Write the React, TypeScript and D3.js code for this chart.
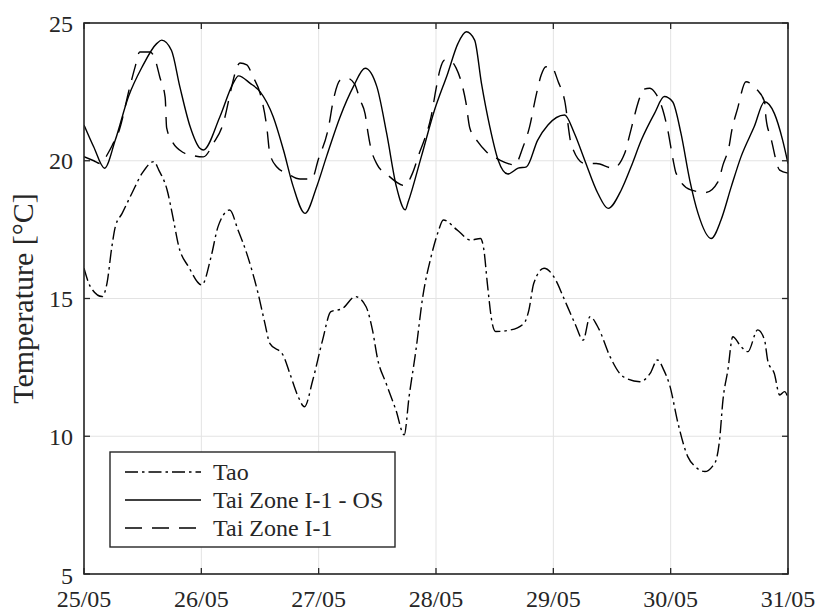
import React from "react";
import * as d3 from "d3";

// hours since 25/05 00:00
const dayLabels = ["25/05", "26/05", "27/05", "28/05", "29/05", "30/05", "31/05"];
const dayTicks = [0, 24, 48, 72, 96, 120, 144];
const yTicks = [5, 10, 15, 20, 25];

const taoHours = [0, 1.3, 3.7, 4.7, 5.7, 6.4, 7.8, 9.8, 11.9, 14.3, 15.3, 17, 18.3, 19.4, 21.4, 24.1, 26, 27.4, 29.8, 31.5, 33.5, 35.6, 37, 38, 40.7, 42.1, 43.8, 45.1, 46.8, 48.8, 50.5, 52.9, 55.5, 57.7, 59, 60.1, 61.8, 63.8, 65.5, 66.5, 67.9, 69.3, 71, 72.4, 73.5, 76.3, 79.1, 81.1, 81.8, 82.5, 83.5, 84.2, 87.3, 90, 91, 92, 94.1, 96.5, 98, 100.4, 102.1, 103.5, 105.3, 107.6, 110.3, 113.7, 115.8, 117.3, 118.6, 119.8, 121.5, 123.5, 125, 127, 128.5, 129.3, 130, 130.7, 131.7, 132.7, 134.4, 135.8, 137.8, 139.2, 139.9, 141.2, 142.3, 143.3, 144];
const taoValues = [16.1, 15.43, 15.07, 15.55, 16.88, 17.6, 18.09, 18.82, 19.55, 19.97, 19.66, 18.94, 17.85, 16.88, 16.15, 15.49, 16.52, 17.6, 18.21, 17.49, 16.52, 15.19, 14.1, 13.37, 12.95, 12.28, 11.44, 11.07, 12.04, 13.49, 14.52, 14.64, 15.07, 14.7, 13.86, 12.77, 11.92, 10.95, 10.05, 11.44, 13.13, 15.07, 16.52, 17.4, 17.85, 17.49, 17.12, 17.18, 16.76, 15.55, 14.1, 13.8, 13.86, 14.1, 14.58, 15.55, 16.1, 15.67, 15.07, 14.1, 13.49, 14.34, 13.9, 12.89, 12.16, 11.98, 12.28, 12.77, 12.4, 11.85, 10.47, 9.26, 8.9, 8.72, 8.9, 9.14, 9.86, 11.32, 12.4, 13.61, 13.25, 13.07, 13.86, 13.49, 12.71, 12.28, 11.5, 11.62, 11.4];

const osHours = [0, 2, 4.2, 6.4, 9.1, 11.9, 14.9, 15.9, 17.9, 19.6, 21.7, 23.7, 24.4, 27.8, 30.5, 31.6, 34, 36, 38.7, 40.8, 42.8, 45.2, 47.6, 49.6, 52.4, 55.1, 57.5, 59.9, 61.9, 63.9, 65.7, 66.3, 69, 71.7, 74.4, 76.5, 78.2, 79.9, 81.3, 83, 84.7, 86.7, 88.8, 90.5, 92.8, 94.9, 98.3, 100.3, 102.4, 105.1, 107.2, 109.9, 111.9, 114, 116.7, 118.7, 120.4, 122.1, 123.9, 125.6, 128.3, 130.3, 132.4, 134.4, 137.1, 139.2, 141.2, 142.9, 144];
const osValues = [21.3, 20.5, 19.73, 20.75, 22.33, 23.41, 24.26, 24.38, 24.0, 22.69, 21.24, 20.45, 20.39, 21.6, 22.81, 23.08, 22.81, 22.51, 21.6, 20.39, 19.06, 18.09, 19.06, 20.15, 21.6, 22.69, 23.36, 22.69, 21.0, 19.06, 18.22, 18.5, 20.15, 21.84, 23.17, 24.26, 24.68, 24.38, 22.81, 21.24, 20.03, 19.52, 19.73, 19.78, 20.75, 21.3, 21.66, 21.0, 20.03, 18.82, 18.27, 18.94, 19.78, 20.75, 21.72, 22.33, 22.14, 21.0, 19.3, 18.09, 17.18, 17.85, 19.06, 20.15, 21.24, 22.14, 21.72, 20.75, 19.9];

const zoneHours = [0, 2, 3.3, 5, 6, 7, 9.4, 10.4, 11.4, 13.5, 14.5, 15.5, 16.6, 16.9, 17.9, 20.3, 22, 24.4, 26.5, 28.5, 30.2, 30.9, 31.9, 33.3, 34.6, 36, 37.4, 38, 39.4, 41.5, 44.2, 46.6, 47.9, 50, 51, 52.4, 53.8, 55.3, 56.5, 57.5, 58.1, 58.5, 60, 62, 65.6, 67.2, 68.6, 69.6, 71, 72, 72.8, 73.8, 75.2, 76.1, 77.5, 78.1, 78.9, 80.5, 82.3, 85, 88.1, 89.8, 91.1, 92.5, 93.5, 94.5, 95.6, 97, 98.3, 99.7, 102.4, 104.8, 108.2, 110.6, 111.6, 112.3, 113.3, 114.6, 115.7, 116.7, 118.4, 119.4, 120.5, 121.1, 124.1, 127.2, 129.7, 130.7, 132, 132.4, 133.7, 135.4, 137.4, 139.2, 139.5, 140.5, 142.3, 144];
const zoneValues = [20.15, 20.0, 19.9, 20.3, 20.64, 21.0, 22.7, 23.37, 23.95, 23.95, 23.7, 23.04, 22.3, 21.2, 20.75, 20.3, 20.2, 20.14, 20.64, 21.37, 22.68, 23.18, 23.55, 23.48, 23.04, 22.46, 21.2, 20.28, 19.78, 19.55, 19.34, 19.34, 20.03, 21.2, 22.2, 22.93, 23.0, 22.8, 22.2, 21.7, 21.0, 20.6, 19.85, 19.5, 19.1, 19.55, 20.28, 20.75, 21.6, 22.6, 23.3, 23.66, 23.6, 23.37, 22.64, 22.14, 21.2, 20.7, 20.33, 20.03, 19.85, 20.5, 21.2, 22.39, 23.1, 23.41, 23.41, 22.87, 22.2, 20.57, 19.9, 19.9, 19.73, 20.27, 20.93, 21.42, 22.09, 22.6, 22.63, 22.5, 21.84, 21.12, 20.03, 19.55, 18.94, 18.85, 19.24, 19.85, 20.57, 21.0, 21.9, 22.87, 22.63, 22.14, 21.55, 20.83, 19.66, 19.55];

const legendLabels = ["Tao", "Tai Zone I-1 - OS", "Tai Zone I-1"];

const W = 818;
const H = 611;
const M = { left: 84, top: 23, right: 788, bottom: 574 };
const FONT = "Liberation Serif";
const TXT = "#262626";

export default function App() {
  const x = d3.scaleLinear().domain([0, 144]).range([M.left, M.right]);
  const y = d3.scaleLinear().domain([5, 25]).range([M.bottom, M.top]);

  const mk = (hs: number[], vs: number[]) =>
    d3
      .line<number>()
      .x((_, i) => x(hs[i]))
      .y((v) => y(v))
      .curve(d3.curveMonotoneX)(vs) as string;

  const series = [
    { d: mk(taoHours, taoValues), dash: "13,4,2.5,4" },
    { d: mk(osHours, osValues), dash: "none" },
    { d: mk(zoneHours, zoneValues), dash: "17,10" },
  ];

  const legX = 110, legY = 452, legW = 285, legH = 95;
  const rowY = [472, 500, 528];

  return (
    <svg
      width={W}
      height={H}
      fontFamily={FONT}
      style={{ position: "absolute", left: 0, top: 0 }}
    >
      <defs>
        <clipPath id="plot">
          <rect x={M.left} y={M.top} width={M.right - M.left} height={M.bottom - M.top} />
        </clipPath>
      </defs>
      <rect x={0} y={0} width={W} height={H} fill="#fff" />
      {dayTicks.map((t) => (
        <line key={"gx" + t} x1={x(t)} x2={x(t)} y1={M.top} y2={M.bottom} stroke="#e3e3e3" strokeWidth={1} />
      ))}
      {yTicks.map((t) => (
        <line key={"gy" + t} x1={M.left} x2={M.right} y1={y(t)} y2={y(t)} stroke="#e3e3e3" strokeWidth={1} />
      ))}
      <g clipPath="url(#plot)">
        {series.map((s, i) => (
          <path
            key={i}
            d={s.d}
            fill="none"
            stroke="#000"
            strokeWidth={1.4}
            strokeDasharray={s.dash}
          />
        ))}
      </g>
      <rect
        x={M.left}
        y={M.top}
        width={M.right - M.left}
        height={M.bottom - M.top}
        fill="none"
        stroke={TXT}
        strokeWidth={1.6}
      />
      {dayTicks.map((t) => (
        <g key={"tx" + t}>
          <line x1={x(t)} x2={x(t)} y1={M.bottom} y2={M.bottom - 6} stroke={TXT} strokeWidth={1.3} />
          <line x1={x(t)} x2={x(t)} y1={M.top} y2={M.top + 6} stroke={TXT} strokeWidth={1.3} />
        </g>
      ))}
      {yTicks.map((t) => (
        <g key={"ty" + t}>
          <line x1={M.left} x2={M.left + 6} y1={y(t)} y2={y(t)} stroke={TXT} strokeWidth={1.3} />
          <line x1={M.right} x2={M.right - 6} y1={y(t)} y2={y(t)} stroke={TXT} strokeWidth={1.3} />
        </g>
      ))}
      {dayTicks.map((t, i) => (
        <text
          key={"lx" + t}
          x={x(t)}
          y={606.5}
          textAnchor="middle"
          fontSize={24}
          fontFamily={FONT}
          fill={TXT}
        >
          {dayLabels[i]}
        </text>
      ))}
      {yTicks.map((t) => (
        <text
          key={"ly" + t}
          x={73}
          y={y(t) + (t === 5 ? 9.5 : 8.5)}
          textAnchor="end"
          fontSize={24}
          fontFamily={FONT}
          fill={TXT}
        >
          {t}
        </text>
      ))}
      <text
        transform={`translate(33,${(M.top + M.bottom) / 2}) rotate(-90)`}
        textAnchor="middle"
        fontSize={30}
        fontFamily={FONT}
        fill={TXT}
      >
        Temperature [°C]
      </text>
      <rect x={legX} y={legY} width={legW} height={legH} fill="#fff" stroke={TXT} strokeWidth={1.4} />
      {legendLabels.map((lab, i) => (
        <g key={lab}>
          <line
            x1={125}
            x2={201}
            y1={rowY[i]}
            y2={rowY[i]}
            stroke="#000"
            strokeWidth={1.4}
            strokeDasharray={series[i].dash}
          />
          <text x={213} y={rowY[i] + 7.5} fontSize={24} fontFamily={FONT} fill={TXT}>
            {lab}
          </text>
        </g>
      ))}
    </svg>
  );
}
